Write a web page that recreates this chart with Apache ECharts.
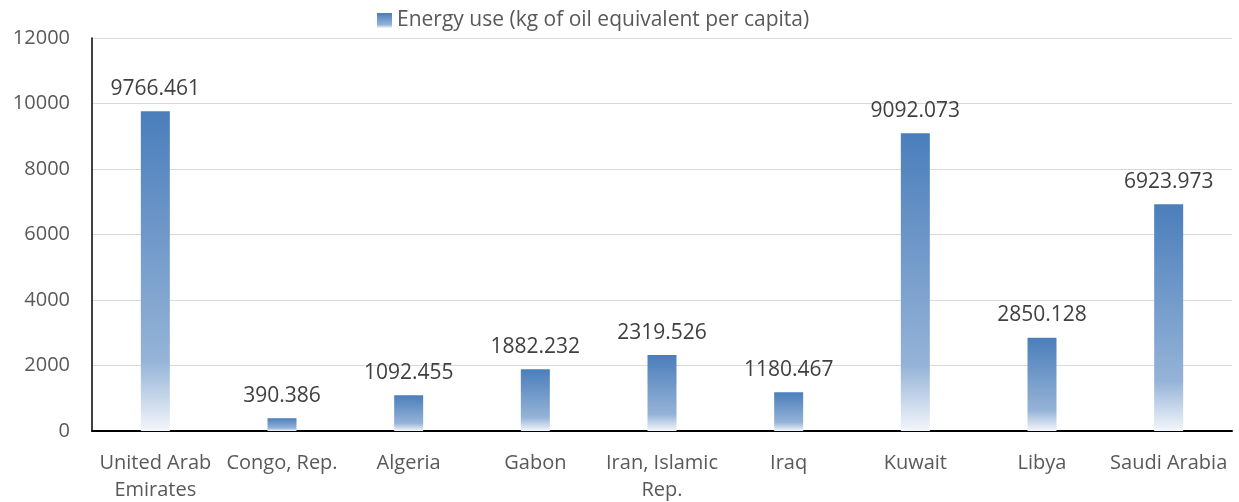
<!DOCTYPE html>
<html>
<head>
<meta charset="utf-8">
<script src="https://cdn.jsdelivr.net/npm/echarts@6/dist/echarts.min.js"></script>
<style>
  html, body { margin: 0; padding: 0; background: #fff; }
  #chart { width: 1239px; height: 502px; }
</style>
</head>
<body>
<div id="chart"></div>
<script>
const countries = ['United Arab\nEmirates', 'Congo, Rep.', 'Algeria', 'Gabon', 'Iran, Islamic\nRep.', 'Iraq', 'Kuwait', 'Libya', 'Saudi Arabia'];
const energyUse = [9766.461, 390.386, 1092.455, 1882.232, 2319.526, 1180.467, 9092.073, 2850.128, 6923.973];
const seriesName = 'Energy use (kg of oil equivalent per capita)';

const textColor = '#595959';
const font = "'Open Sans', 'Noto Sans', sans-serif";

const chart = echarts.init(document.getElementById('chart'));

const barFill = new echarts.graphic.LinearGradient(0, 0, 0, 1, [
  { offset: 0, color: '#4a7ebb' },
  { offset: 0.78, color: '#95b3d7' },
  { offset: 1, color: '#f3f6fb' },
]);

chart.setOption({
  animation: false,
  textStyle: { fontFamily: font },
  grid: {
    left: 92,
    right: 7,
    top: 38,
    bottom: 71,
    outerBoundsMode: 'none',
    containLabel: false,
  },
  legend: {
    top: 5,
    left: 372,
    itemWidth: 15,
    itemHeight: 15,
    itemGap: 6,
    textStyle: { color: textColor, fontSize: 21, fontFamily: font },
    data: [{ name: seriesName, icon: 'rect' }],
  },
  xAxis: {
    type: 'category',
    data: countries,
    axisTick: { show: false },
    axisLine: { lineStyle: { color: '#000', width: 2 } },
    axisLabel: {
      color: textColor,
      fontSize: 20,
      margin: 19,
      lineHeight: 27,
      interval: 0,
    },
  },
  yAxis: {
    type: 'value',
    min: 0,
    max: 12000,
    interval: 2000,
    axisLine: { show: true, lineStyle: { color: '#000', width: 1.5 } },
    axisTick: { show: false },
    splitLine: { lineStyle: { color: '#d9d9d9', width: 1 } },
    axisLabel: {
      color: textColor,
      fontSize: 20,
      margin: 22,
      formatter: (v) => String(v),
    },
  },
  series: [
    {
      name: seriesName,
      type: 'bar',
      data: energyUse,
      barWidth: 29,
      itemStyle: { color: barFill },
      label: {
        show: true,
        position: 'top',
        distance: 12,
        color: '#404040',
        fontSize: 21,
        formatter: (p) => p.value.toFixed(3),
      },
    },
  ],
});
</script>
</body>
</html>
